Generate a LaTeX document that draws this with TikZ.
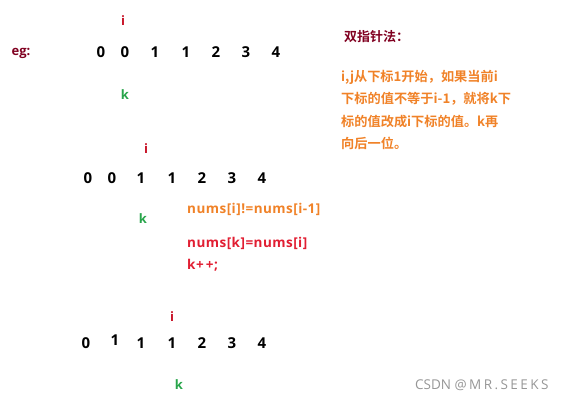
\documentclass[tikz,border=0pt]{standalone}
\usepackage{fontspec}
\setmainfont{Noto Sans CJK SC}[BoldFont={* Bold}]
\newfontfamily\latinfont{Open Sans}[BoldFont={* Bold}]
\newfontfamily\codefont{Open Sans}[BoldFont={* Bold}, LetterSpace=3.5]
\newfontfamily\wmfont{Open Sans}[LetterSpace=18]
\definecolor{egred}{RGB}{128,0,32}
\definecolor{ired}{RGB}{200,20,40}
\definecolor{kgreen}{RGB}{40,165,75}
\definecolor{ora}{RGB}{240,130,40}
\definecolor{codered}{RGB}{225,30,50}
\definecolor{wm}{RGB}{150,150,150}
\tikzset{
  digit/.style={font=\latinfont\fontsize{15}{15}\selectfont\bfseries, text=black, inner sep=0pt},
  ilab/.style={font=\latinfont\fontsize{13}{13}\selectfont\bfseries, text=ired, inner sep=0pt},
  klab/.style={font=\latinfont\fontsize{13}{13}\selectfont\bfseries, text=kgreen, inner sep=0pt},
  note/.style={font=\fontsize{13.2}{13.2}\selectfont\bfseries, text=ora, inner sep=0pt, anchor=west},
  code/.style={font=\codefont\fontsize{13.5}{13.5}\selectfont\bfseries, inner sep=0pt, anchor=west},
}
\begin{document}
\begin{tikzpicture}[x=1pt,y=-1pt]
\useasboundingbox (0,0) rectangle (585,404);
% row 1
\node[font=\latinfont\fontsize{13}{13}\selectfont\bfseries, text=egred, inner sep=0pt] (eg) at (21,53) {eg:};
\foreach \x/\v [count=\n] in {101/0,125/0,155/1,186/1,216/2,246/3,276/4}
  \node[digit] (a\n) at (\x,52) {\v};
\node[ilab] (ia) at (123,21) {i};
\node[klab] (ka) at (125,95) {k};
% notes
\node[font=\fontsize{13}{13}\selectfont\bfseries, text=egred, inner sep=0pt, anchor=west] (title) at (344,37) {双指针法：};
\node[note] (n1) at (341,77) {i,j从下标1开始，如果当前i};
\node[note] (n2) at (341,99) {下标的值不等于i-1，就将k下};
\node[note] (n3) at (341,122) {标的值改成i下标的值。k再};
\node[note] (n4) at (341,143) {向后一位。};
% row 2
\foreach \x/\v [count=\n] in {88/0,112/0,141/1,172/1,202/2,232/3,262/4}
  \node[digit] (b\n) at (\x,178) {\v};
\node[ilab] (ib) at (146,149) {i};
\node[klab] (kb) at (143,219) {k};
\node[code, text=ora] (c1) at (187,209) {nums[i]!=nums[i-1]};
\node[code, text=codered] (c2) at (187,243) {nums[k]=nums[i]};
\node[code, text=codered] (c3) at (187,265) {k+\,+;};
% row 3
\foreach \x/\y/\v [count=\n] in {86/343/0,115/340/1,141/343/1,172/343/1,202/343/2,232/343/3,262/343/4}
  \node[digit] (c\n) at (\x,\y) {\v};
\node[ilab] (ic) at (172,317) {i};
\node[klab] (kc) at (179,385) {k};
% watermark
\node[font=\latinfont\fontsize{13.5}{13.5}\selectfont, text=wm, inner sep=0pt, anchor=west] (wmark) at (415,385) {CSDN {\wmfont @MR.SEEKS}};
\end{tikzpicture}
\end{document}
